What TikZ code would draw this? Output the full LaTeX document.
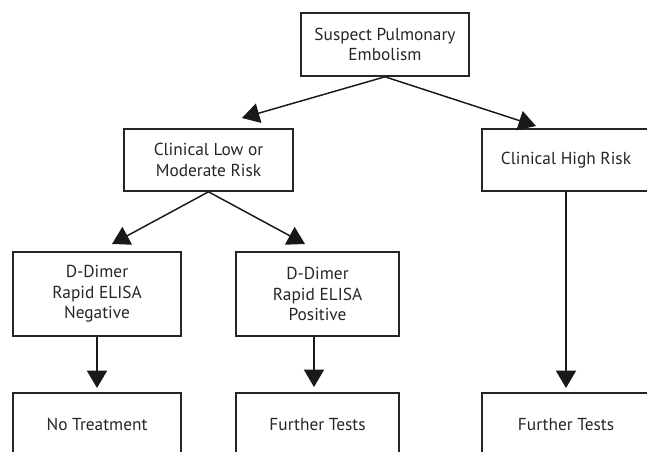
\documentclass[tikz,border=0pt]{standalone}
\usepackage{fontspec}
\setmainfont{PT Sans}
\usetikzlibrary{arrows.meta}
\begin{document}
\begin{tikzpicture}[x=0.75pt,y=-0.75pt,
  box/.style={draw=black!85,line width=1.2pt,align=center,inner sep=0pt,
    font=\fontsize{13}{15.5}\selectfont,text=black!85},
  arr/.style={draw=black!90,line width=1.1pt,-{Triangle[length=13pt,width=15pt]}}]
  \useasboundingbox (0,0) rectangle (647,451);
  \begin{scope}
  \clip (0,0) rectangle (647,451);
  % boxes
  \node[box,minimum width=168*0.75pt,minimum height=63*0.75pt] (top) at (385,44.5) {Suspect Pulmonary\\Embolism};
  \node[box,minimum width=169*0.75pt,minimum height=62*0.75pt] (low) at (208.5,160) {Clinical Low or\\Moderate Risk};
  \node[box,minimum width=168*0.75pt,minimum height=62*0.75pt] (high) at (566,160) {Clinical High Risk};
  \node[box,minimum width=168*0.75pt,minimum height=84*0.75pt] (neg) at (97,294) {D-Dimer\\Rapid ELISA\\Negative};
  \node[box,minimum width=163*0.75pt,minimum height=84*0.75pt] (pos) at (317.5,294) {D-Dimer\\Rapid ELISA\\Positive};
  \node[box,minimum width=168*0.75pt,minimum height=63*0.75pt] (notreat) at (97,424.5) {No Treatment};
  \node[box,minimum width=163*0.75pt,minimum height=63*0.75pt] (furthera) at (317.5,424.5) {Further Tests};
  \node[box,minimum width=168*0.75pt,minimum height=63*0.75pt] (furtherb) at (566,424.5) {Further Tests};
  \end{scope}
  % arrow end points
  \coordinate (tl) at (242,118);
  \coordinate (tr) at (536,126);
  \coordinate (ll) at (112,244);
  \coordinate (lr) at (305,244);
  \coordinate (vn) at (97,388);
  \coordinate (vp) at (314,387);
  \coordinate (vh) at (566,388);
  % connectors
  \draw[arr] (top.south) -- (tl);
  \draw[arr] (top.south) -- (tr);
  \draw[arr] (low.south) -- (ll);
  \draw[arr] (low.south) -- (lr);
  \draw[arr] (neg.south) -- (vn);
  \draw[arr] (pos.south -| vp) -- (vp);
  \draw[arr] (high.south) -- (vh);
\end{tikzpicture}
\end{document}
